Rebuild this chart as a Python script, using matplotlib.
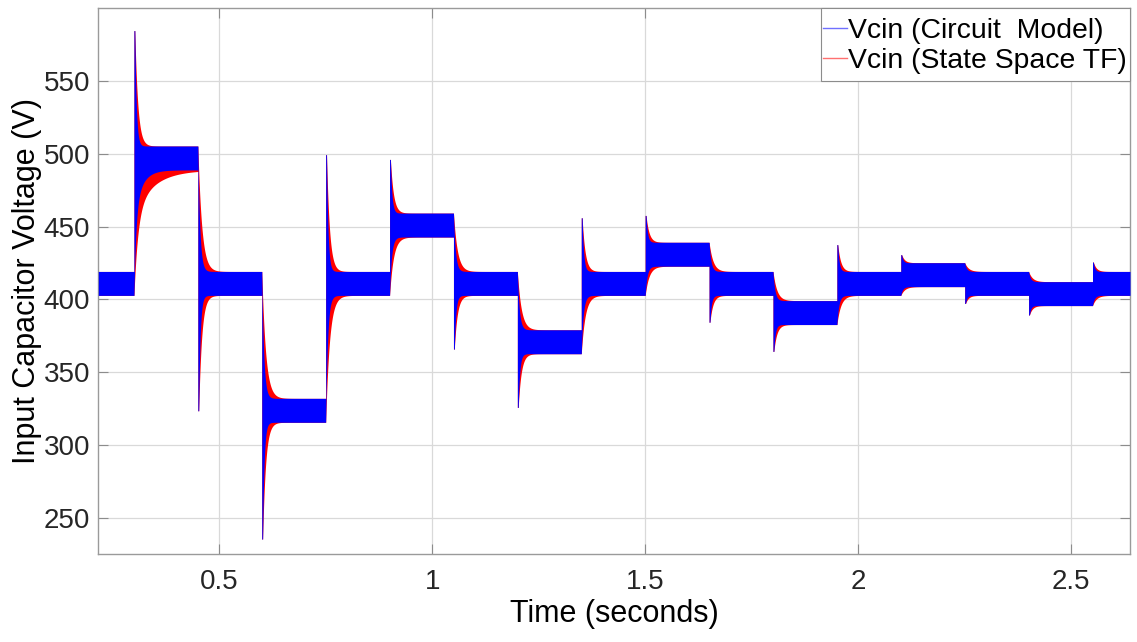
import numpy as np
import matplotlib
matplotlib.use("Agg")
import matplotlib.pyplot as plt
from matplotlib.lines import Line2D
from matplotlib.patches import Rectangle

plt.rcParams['font.family'] = ['Liberation Sans', 'DejaVu Sans']

# ---------------- data ----------------
step_times = [0.30, 0.45, 0.60, 0.75, 0.90, 1.05, 1.20, 1.35,
              1.50, 1.65, 1.80, 1.95, 2.10, 2.25, 2.40, 2.55]
# band centre level before the first step and after every step (V)
levels = [411, 497, 411, 324, 411, 451, 411, 371, 411,
          431, 411, 391, 411, 417, 411, 404, 411]
ripple_half = 8.2          # half peak-to-peak switching ripple (V)
overshoot_gain = 0.92      # first spike relative to the step size
tail_weight = [0.35, 0, 0, 0, 0, 0, 0, 0, 0, 0, 0, 0, 0, 0, 0, 0]
# settling time constants (s)
circuit_tau = dict(over=0.0035, app=0.0045, tail=0.018, hold=0.002)
statespace_tau = dict(over=0.007, app=0.009, tail=0.045, hold=0.002)
t_start, t_end = 0.2163, 2.638

x_ticks = [0.5, 1.0, 1.5, 2.0, 2.5]
x_ticklabels = ['0.5', '1', '1.5', '2', '2.5']
y_ticks = [250, 300, 350, 400, 450, 500, 550]
labels = ['Vcin (Circuit  Model)', 'Vcin (State Space TF)']


def envelopes(t, tau):
    upper = np.full_like(t, levels[0] + ripple_half)
    lower = np.full_like(t, levels[0] - ripple_half)
    for k, s in enumerate(step_times):
        m = t >= s
        u = t[m] - s
        new, old = levels[k + 1], levels[k]
        d = new - old
        g_over = overshoot_gain * np.exp(-np.clip(u - tau['hold'], 0, None) / tau['over'])
        w = tail_weight[k]
        g_app = (1 - w) * np.exp(-u / tau['app']) + w * np.exp(-u / tau['tail'])
        if d >= 0:
            upper[m] = new + ripple_half + d * g_over
            lower[m] = new - ripple_half - d * g_app
        else:
            upper[m] = new + ripple_half - d * g_app
            lower[m] = new - ripple_half + d * g_over
    return upper, lower


t = np.linspace(t_start, t_end, 300001)
b_up, b_lo = envelopes(t, circuit_tau)
r_up, r_lo = envelopes(t, statespace_tau)

W, H = 1137, 642
fig = plt.figure(figsize=(W / 100, H / 100), dpi=100)
ax = fig.add_axes([98.3 / W, 1 - 554 / H, (1130 - 98.3) / W, (554 - 8.3) / H])

ax.fill_between(t, r_lo, r_up, color='#ff0000', linewidth=0, zorder=2)
ax.fill_between(t, b_lo, b_up, color='#0000ff', linewidth=0, zorder=3)

ax.set_xlim(t_start, t_end)
ax.set_ylim(225.5, 599.6)
ax.set_xticks(x_ticks)
ax.set_xticklabels(x_ticklabels)
ax.set_yticks(y_ticks)

ax.grid(True, color='#d9d9d9', linewidth=0.9, zorder=0)
ax.set_axisbelow(True)
for sp in ax.spines.values():
    sp.set_color('#9a9a9a')
    sp.set_linewidth(1.0)
ax.tick_params(axis='both', direction='in', length=7, width=0.8, color='#8c8c8c',
               labelcolor='#262626', labelsize=20, top=True, right=True)
ax.tick_params(axis='x', pad=11)
ax.tick_params(axis='y', pad=6)

ax.set_xlabel('Time (seconds)', fontsize=22, color='#000000')
ax.set_ylabel('Input Capacitor Voltage (V)', fontsize=22, color='#000000')
ax.xaxis.set_label_coords(0.5, (554 - 599) / 545.7)
ax.yaxis.set_label_coords((42 - 98.3) / 1031.7, 0.5)

# legend box (white, thin grey edge) in the upper-right corner
box = Rectangle((820.7 / W, 1 - 81 / H), (1130 - 820.7) / W, (81 - 8.3) / H,
                transform=fig.transFigure, facecolor='white', edgecolor='#8c8c8c',
                linewidth=0.8, zorder=9, clip_on=False)
ax.add_patch(box)

handles = [Line2D([], [], color='#7070ff', lw=1.0),
           Line2D([], [], color='#ff7070', lw=1.0)]
leg = ax.legend(handles, labels, loc='upper left',
                bbox_to_anchor=(823 / W, 1 - 17.5 / H), bbox_transform=fig.transFigure,
                borderaxespad=0, frameon=False, fontsize=20.4,
                handlelength=0.85, handletextpad=0.05, borderpad=0,
                labelspacing=0.16)
leg.set_zorder(10)

fig.savefig('out.png', dpi=100, facecolor='white')
